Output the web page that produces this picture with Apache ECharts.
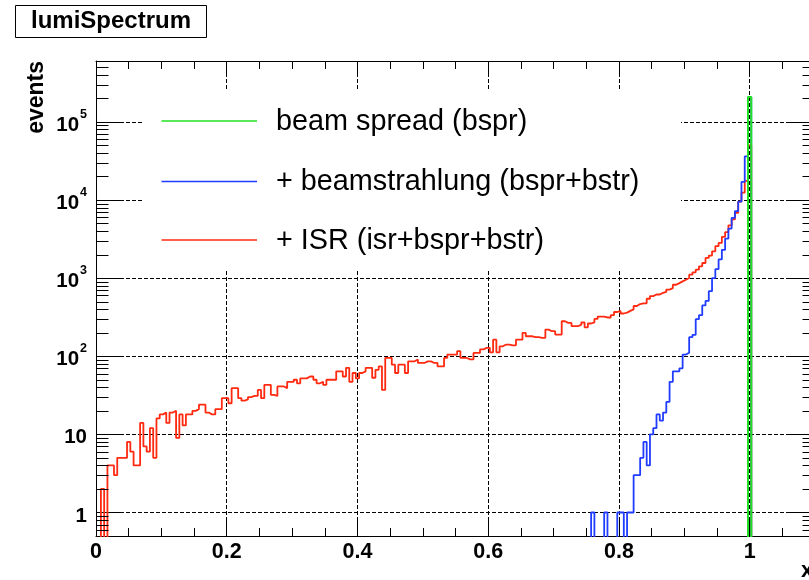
<!DOCTYPE html>
<html>
<head>
<meta charset="utf-8">
<script src="https://cdn.jsdelivr.net/npm/echarts@6/dist/echarts.min.js"></script>
<style>
  html, body { margin: 0; padding: 0; background: #fff; }
  #chart { width: 809px; height: 580px; }
</style>
</head>
<body>
<div id="chart"></div>
<script>
// histogram bins: bin k is centred on k * binWidth
const binWidth = 0.005

// + ISR (isr+bspr+bstr), bins 0..200
const isrStart = 0
const isrCounts = [
  0, 0, 2, 0, 4, 4, 3, 5, 5, 5,
  8, 6, 4, 4, 14, 7, 6, 12, 5, 16,
  18, 19, 14, 19, 20, 9, 18, 13, 18, 18,
  20, 21, 24, 24, 19, 18, 18, 21, 21, 29,
  29, 25, 39, 39, 29, 27, 28, 30, 31, 31,
  37, 29, 43, 43, 32, 31, 41, 41, 39, 47,
  47, 50, 45, 52, 52, 55, 55, 50, 45, 47,
  43, 50, 50, 50, 64, 64, 55, 71, 47, 61,
  52, 61, 64, 71, 71, 53, 67, 74, 37, 95,
  95, 78, 61, 78, 78, 61, 86, 86, 91, 82,
  82, 86, 86, 82, 82, 74, 74, 95, 105, 105,
  105, 116, 95, 95, 91, 91, 110, 110, 122, 128,
  128, 112, 163, 112, 134, 141, 141, 138, 138, 163,
  163, 199, 180, 180, 175, 175, 172, 172, 219, 209,
  209, 189, 189, 280, 267, 267, 242, 242, 254, 270,
  234, 262, 271, 300, 322, 322, 313, 313, 335, 368,
  380, 352, 361, 380, 398, 439, 465, 475, 475, 544,
  588, 616, 616, 646, 666, 713, 743, 821, 862, 906,
  952, 1000, 1104, 1183, 1280, 1413, 1560, 1810, 1940, 2200,
  2560, 2820, 3370, 3870, 4720, 5630, 6860, 9500, 12400, 17500,
  50000
]

// + beamstrahlung (bspr+bstr), bins 150..200
const bstrStart = 150
const bstrCounts = [
  0, 0, 1, 0, 0, 0, 1, 0, 0, 0,
  1, 1, 0, 1, 1, 3, 3, 5, 8, 4,
  10, 12, 18, 15, 19, 26, 47, 64, 64, 70,
  105, 111, 175, 188, 298, 335, 447, 510, 680, 1000,
  1300, 1730, 2300, 3200, 4300, 5900, 7200, 9500, 17000, 36000,
  207000
]

// beam spread (bspr), one bin at x = 1
const bsprStart = 200
const bsprCounts = [207000]

const legendLabels = ['beam spread (bspr)', '+ beamstrahlung (bspr+bstr)', '+ ISR (isr+bspr+bstr)']
const lineColors = ['#22e022', '#1f3cff', '#ff2a10']
const legendY = [121, 181.5, 240]

const xMin = 0
const xMax = 1.1
const yMin = 0.5
const yMax = 6e5
const decades = [0.1, 1, 10, 100, 1000, 10000, 100000]
const minorMantissas = [2, 3, 4, 5, 6, 7, 8, 9]
const emptyLevel = 0.01 // empty bins fall below the frame and get clipped

const font = "'Liberation Sans', Arial, Helvetica, sans-serif"

const toSteps = (start, counts) => {
  const edge = k => (k - 0.5) * binWidth
  const pts = [[edge(start), emptyLevel]]
  counts.forEach((c, i) => pts.push([edge(start + i), c > 0 ? c : emptyLevel]))
  pts.push([edge(start + counts.length), emptyLevel])
  return pts
}

const minorTicks = decades
  .flatMap(d => minorMantissas.map(m => m * d))
  .filter(v => v > yMin && v < yMax)

const black = { color: '#000', width: 1 }
const gridLine = { color: '#000', width: 1, type: [4, 2] }

const xAxisBase = (position, major) => ({
  type: 'value',
  min: xMin,
  max: xMax,
  interval: major ? 0.2 : 0.05,
  position,
  axisLine: { show: major, onZero: false, lineStyle: black },
  axisTick: { show: true, inside: true, length: major ? 15 : 8, lineStyle: black },
  axisLabel: { show: false },
  splitLine: { show: false }
})

const yAxisBase = position => ({
  type: 'log',
  logBase: 10,
  min: yMin,
  max: yMax,
  position,
  axisLine: { show: true, onZero: false, lineStyle: black },
  axisTick: { show: true, inside: true, length: 25, lineStyle: black },
  axisLabel: { show: false },
  splitLine: { show: false }
})

const stepSeries = (name, start, counts, color, width) => ({
  name,
  type: 'line',
  step: 'end',
  data: toSteps(start, counts),
  symbol: 'none',
  showSymbol: false,
  clip: true,
  lineStyle: { color, width },
  itemStyle: { color },
  z: 2
})

const tickLine = (x1, y, x2) => ({
  type: 'line',
  shape: { x1, y1: y, x2, y2: y },
  style: { stroke: '#000', lineWidth: 1 }
})

const chart = echarts.init(document.getElementById('chart'), null, { renderer: 'canvas' })

chart.setOption({
  animation: false,
  backgroundColor: '#fff',
  title: {
    text: 'lumiSpectrum',
    left: 15,
    top: 5,
    padding: [4, 16, 5, 16],
    borderColor: '#000',
    borderWidth: 1,
    textStyle: { fontFamily: font, fontWeight: 'bold', fontSize: 24, color: '#000' }
  },
  grid: { left: 96, top: 61, width: 719, height: 475, show: false, containLabel: false, outerBoundsMode: 'none' },
  xAxis: [
    Object.assign(xAxisBase('bottom', true), {
      axisLabel: { show: true, showMaxLabel: false, margin: 5, color: '#000', fontFamily: font, fontWeight: 'bold', fontSize: 21.5 },
      splitLine: { show: true, lineStyle: gridLine }
    }),
    xAxisBase('top', true),
    xAxisBase('bottom', false),
    xAxisBase('top', false)
  ],
  yAxis: [
    Object.assign(yAxisBase('left'), {
      axisLabel: {
        show: true,
        showMinLabel: false,
        showMaxLabel: false,
        margin: 9,
        formatter: v => {
          const p = Math.round(Math.log10(v))
          return p < 2 ? `{b|${Math.pow(10, p)}}` : `{b|10}{s|${p}}`
        },
        rich: {
          b: { fontFamily: font, fontWeight: 'bold', fontSize: 20.5, lineHeight: 28, verticalAlign: 'bottom', color: '#000' },
          s: { fontFamily: font, fontWeight: 'bold', fontSize: 12.5, lineHeight: 12, verticalAlign: 'top', padding: [0, 0, 0, 1], color: '#000' }
        }
      },
      splitLine: { show: true, lineStyle: gridLine }
    }),
    yAxisBase('right')
  ],
  series: [
    stepSeries(legendLabels[2], isrStart, isrCounts, lineColors[2], 1.8),
    stepSeries(legendLabels[1], bstrStart, bstrCounts, lineColors[1], 1.8),
    stepSeries(legendLabels[0], bsprStart, bsprCounts, lineColors[0], 2),
    {
      type: 'custom',
      silent: true,
      z: 4,
      data: minorTicks.map(v => [xMin, v]),
      renderItem: (params, api) => {
        const l = api.coord([xMin, api.value(1)])
        const r = api.coord([xMax, api.value(1)])
        const y = Math.round(l[1]) + 0.5
        return {
          type: 'group',
          children: [tickLine(l[0], y, l[0] + 12.5), tickLine(r[0] - 12.5, y, r[0])]
        }
      }
    }
  ],
  graphic: [
    { type: 'rect', z: 1, silent: true, shape: { x: 142, y: 90, width: 539, height: 179 }, style: { fill: '#fff' } },
    ...legendLabels.flatMap((label, i) => [
      { type: 'line', z: 5, shape: { x1: 161.5, y1: legendY[i], x2: 257, y2: legendY[i] }, style: { stroke: lineColors[i], lineWidth: 1.5 } },
      { type: 'text', z: 5, x: 276, y: legendY[i] + 1, style: { text: label, fontFamily: font, fontSize: 28.8, fill: '#000', align: 'left', verticalAlign: 'middle' } }
    ]),
    { type: 'text', z: 5, x: 37, y: 61, rotation: Math.PI / 2, style: { text: 'events', fontFamily: font, fontWeight: 'bold', fontSize: 23, fill: '#000', align: 'right', verticalAlign: 'middle' } },
    { type: 'text', z: 5, x: 801, y: 571, style: { text: 'x', fontFamily: font, fontWeight: 'bold', fontSize: 22, fill: '#000', align: 'left', verticalAlign: 'middle' } }
  ]
})

window.addEventListener('resize', () => chart.resize())
</script>
</body>
</html>
